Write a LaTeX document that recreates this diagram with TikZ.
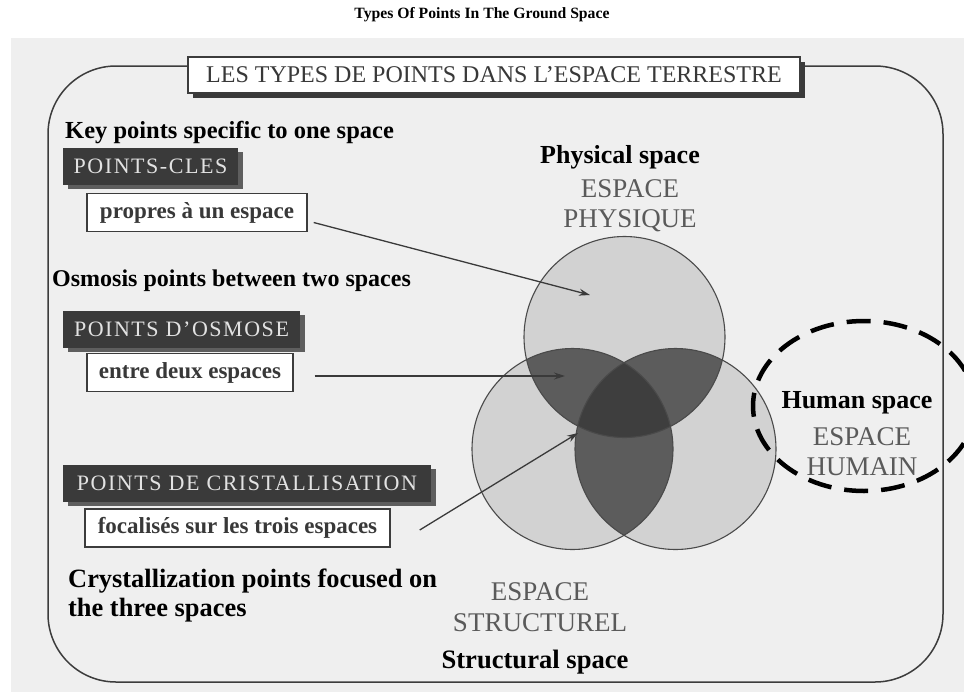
\documentclass[tikz,border=0pt]{standalone}
\usepackage{fontspec}
\setmainfont{Liberation Serif}
\newfontfamily\spacedfont[LetterSpace=7]{Liberation Serif}
\usetikzlibrary{arrows.meta,shadows,shapes.geometric}
\definecolor{scanbg}{HTML}{EFEFEF}
\definecolor{framec}{HTML}{3C3C3C}
\definecolor{boxdark}{HTML}{3A3A3A}
\definecolor{boxshadow}{HTML}{5E5E5E}
\definecolor{boxtxt}{HTML}{E2E2E2}
\definecolor{subtxt}{HTML}{383838}
\definecolor{frtxt}{HTML}{5A5A5A}
\definecolor{venlight}{HTML}{D2D2D2}
\definecolor{vendark}{HTML}{5C5C5C}
\definecolor{vendarker}{HTML}{3E3E3E}
\definecolor{venline}{HTML}{4A4A4A}
\definecolor{arrowc}{HTML}{3A3A3A}
\begin{document}
\begin{tikzpicture}[x=1pt,y=-1pt,
  headbox/.style={draw=framec, line width=1.6pt, fill=white, text=subtxt,
    font=\fontsize{24}{26}\selectfont, minimum width=612pt, minimum height=36pt, inner sep=0pt,
    drop shadow={shadow xshift=5pt, shadow yshift=-5pt, fill=boxdark, opacity=1}},
  darkbox/.style={fill=boxdark, text=boxtxt, font=\spacedfont\fontsize{22}{24}\selectfont,
    minimum height=37pt, inner sep=0pt,
    drop shadow={shadow xshift=5pt, shadow yshift=-4pt, fill=boxshadow, opacity=1}},
  subbox/.style={draw=framec, line width=1.4pt, fill=white, text=subtxt,
    font=\bfseries\fontsize{23}{25}\selectfont, minimum height=38pt, inner sep=0pt},
  engl/.style={font=\bfseries\fontsize{#1}{#1}\selectfont, text=black, inner sep=0pt},
  frlab/.style={font=\fontsize{27}{30}\selectfont, text=frtxt, inner sep=0pt, anchor=base},
  ptr/.style={draw=arrowc, line width=1.3pt, -{Stealth[length=11pt,width=7pt]}},
  venfill/.style={fill=venlight},
  venedge/.style={draw=venline, line width=1.1pt},
  ring/.style={draw=black, ellipse, line width=4.5pt, dash pattern=on 24pt off 13pt, inner sep=0pt}
]
\useasboundingbox (0,0) rectangle (964,694);
\fill[white] (0,0) rectangle (964,694);
\fill[scanbg] (11,38) rectangle (964,692);

% main title
\node[engl=15.7] (title) at (482,15) {Types Of Points In The Ground Space};

% frame
\draw[framec, line width=1.5pt, rounded corners=68pt] (48,66) rectangle (943,682);

% heading box
\node[headbox] (head) at (494,75) {LES TYPES DE POINTS DANS L’ESPACE TERRESTRE};

% Venn diagram
\coordinate (cT) at (624.5,337);
\coordinate (cL) at (572.5,449);
\coordinate (cR) at (675.5,449);
\fill[venfill] (cT) circle (100.5);
\fill[venfill] (cL) circle (100.5);
\fill[venfill] (cR) circle (100.5);
\begin{scope}
  \clip (cT) circle (100.5);
  \fill[vendark] (cL) circle (100.5);
  \fill[vendark] (cR) circle (100.5);
\end{scope}
\begin{scope}
  \clip (cL) circle (100.5);
  \fill[vendark] (cR) circle (100.5);
\end{scope}
\begin{scope}
  \clip (cT) circle (100.5);
  \clip (cL) circle (100.5);
  \fill[vendarker] (cR) circle (100.5);
\end{scope}
\draw[venedge] (cT) circle (100.5);
\draw[venedge] (cL) circle (100.5);
\draw[venedge] (cR) circle (100.5);

% left labels and boxes
\node[engl=24.5, anchor=base west] (keyl) at (65,138) {Key points specific to one space};
\node[darkbox, minimum width=175pt] (cles) at (150.5,166.5) {POINTS-CLES};
\node[subbox, minimum width=220pt] (prop) at (197,212.5) {propres à un espace};

\node[engl=24, anchor=base west] (osml) at (52,286) {Osmosis points between two spaces};
\node[darkbox, minimum width=237pt] (osm) at (181.5,329) {POINTS D’OSMOSE};
\node[subbox, minimum width=206pt] (entre) at (190,372.5) {entre deux espaces};

\node[darkbox, minimum width=368pt] (cris) at (247,483.5) {POINTS DE CRISTALLISATION};
\node[subbox, minimum width=305pt] (focal) at (237.5,528) {focalisés sur les trois espaces};
\node[engl=26.4, anchor=base west] (cryl1) at (68,587) {Crystallization points focused on};
\node[engl=26.4, anchor=base west] (cryl2) at (68,616) {the three spaces};

% pointers
\coordinate (tipA) at (590,295);
\coordinate (tipB) at (565,376);
\coordinate (tipC) at (578,433);
\draw[ptr] ([shift={(6,10)}]prop.east) -- (tipA);
\draw[ptr] ([shift={(21,3.5)}]entre.east) -- (tipB);
\draw[ptr] ([shift={(29,2)}]focal.east) -- (tipC);

% space labels
\node[engl=26, anchor=base] (physl) at (620,163) {Physical space};
\node[frlab] (phys1) at (630,197) {ESPACE};
\node[frlab] (phys2) at (630,227) {PHYSIQUE};

\node[ring, minimum width=222pt, minimum height=170pt] (humring) at (864,406) {};
\node[engl=26, anchor=base] (huml) at (857,408) {Human space};
\node[frlab] (hum1) at (862,445) {ESPACE};
\node[frlab] (hum2) at (862,475) {HUMAIN};

\node[frlab] (str1) at (540,600) {ESPACE};
\node[frlab] (str2) at (540,631) {STRUCTUREL};
\node[engl=26.6, anchor=base] (strl) at (535,668) {Structural space};
\end{tikzpicture}
\end{document}
